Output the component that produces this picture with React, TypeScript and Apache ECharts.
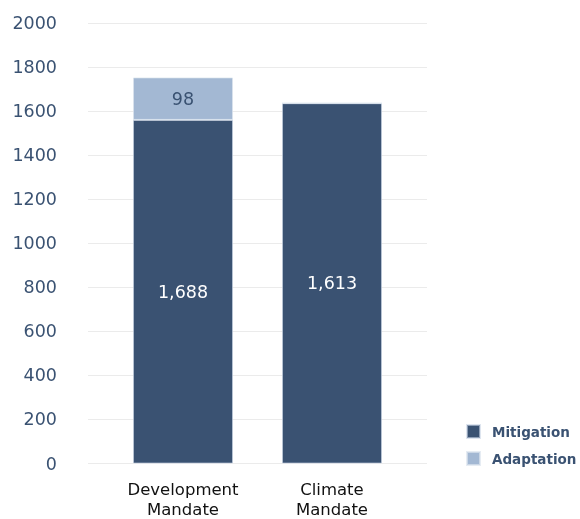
import React, { useEffect, useRef } from "react";
import * as echarts from "echarts";

const categories = ["Development\nMandate", "Climate\nMandate"];
const mitigation = [1561, 1637];
const adaptation = [193, 0];
const mitigationLabels = ["1,688", "1,613"];
const adaptationLabels = ["98", ""];
const seriesNames = ["Mitigation", "Adaptation"];

const DARK = "#3a5272";
const LIGHT = "#a3b8d3";
const FONT = "DejaVu Sans";

export default function App() {
  const ref = useRef<HTMLDivElement>(null);
  useEffect(() => {
    if (!ref.current) return;
    const chart = echarts.init(ref.current, null, { renderer: "svg" });
    const top = 23.3;
    const height = 463.5 - 23.3;
    chart.setOption({
      animation: false,
      grid: [
        { left: 88, width: 339, top, height, outerBoundsMode: "none", containLabel: false },
        { left: 108.5, width: 298, top, height, outerBoundsMode: "none", containLabel: false },
      ],
      legend: {
        orient: "vertical",
        left: 466,
        top: 424,
        padding: 0,
        itemWidth: 13,
        itemHeight: 13,
        itemGap: 12,
        icon: "rect",
        data: seriesNames,
        textStyle: {
          fontFamily: FONT,
          fontSize: 13.5,
          fontWeight: "bold",
          color: DARK,
          padding: [0, 0, 0, 7],
        },
      },
      xAxis: [
        { gridIndex: 0, type: "value", show: false, min: 0, max: 1 },
        {
          gridIndex: 1,
          type: "category",
          data: categories,
          axisLine: { show: false },
          axisTick: { show: false },
          axisLabel: {
            margin: 15.5,
            color: "#111",
            fontFamily: FONT,
            fontSize: 16.5,
            lineHeight: 20,
          },
        },
      ],
      yAxis: [
        {
          gridIndex: 0,
          type: "value",
          min: 0,
          max: 2000,
          interval: 200,
          axisLine: { show: false },
          axisTick: { show: false },
          splitLine: { lineStyle: { color: "#ebebeb", width: 1 } },
          axisLabel: {
            margin: 31,
            color: DARK,
            fontFamily: FONT,
            fontSize: 17.5,
            formatter: (v: number) => String(v),
          },
        },
        {
          gridIndex: 1,
          type: "value",
          min: 0,
          max: 2000,
          interval: 200,
          show: false,
        },
      ],
      series: [
        {
          name: seriesNames[0],
          type: "bar",
          stack: "total",
          xAxisIndex: 1,
          yAxisIndex: 1,
          barWidth: 100,
          data: mitigation,
          itemStyle: { color: DARK, borderColor: "rgba(200,212,228,0.6)", borderWidth: 1 },
          label: {
            show: true,
            position: "inside",
            color: "#fff",
            fontFamily: FONT,
            fontSize: 17.5,
            formatter: (p: any) => mitigationLabels[p.dataIndex],
          },
        },
        {
          name: seriesNames[1],
          type: "bar",
          stack: "total",
          xAxisIndex: 1,
          yAxisIndex: 1,
          barWidth: 100,
          data: adaptation,
          itemStyle: { color: LIGHT, borderColor: "rgba(220,228,238,0.7)", borderWidth: 1 },
          label: {
            show: true,
            position: "inside",
            color: DARK,
            fontFamily: FONT,
            fontSize: 17.5,
            formatter: (p: any) => adaptationLabels[p.dataIndex],
          },
        },
      ],
    });
    return () => chart.dispose();
  }, []);
  return (
    <div
      ref={ref}
      style={{ position: "fixed", left: 0, top: 0, width: 580, height: 519 }}
    />
  );
}
